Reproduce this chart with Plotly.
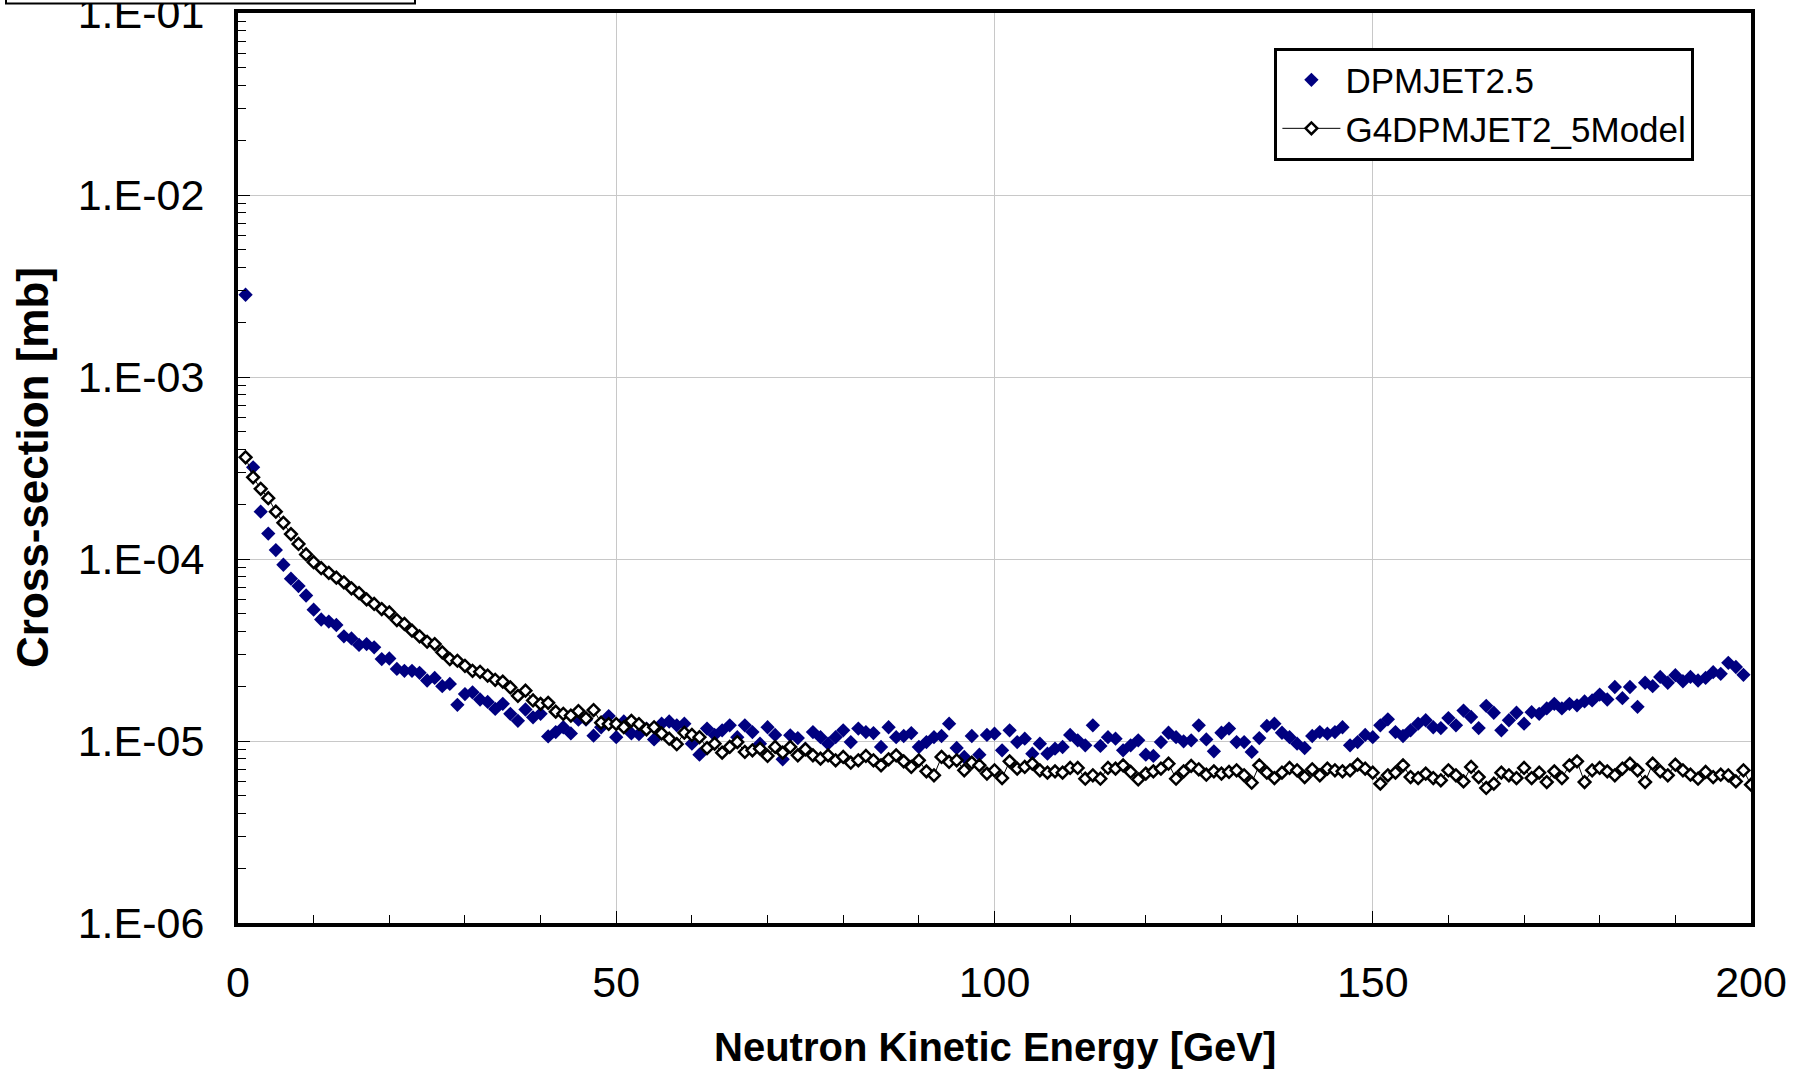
import plotly.graph_objects as go

# ---------------- data ----------------
energy_dpmjet = list(range(1, 200))   # 1..199 GeV
xs_dpmjet = [
    2.83e-3, 3.19e-4, 1.82e-4, 1.38e-4, 1.12e-4, 9.3e-5, 7.8e-5, 7.1e-5, 6.3e-5, 5.27e-5,
    4.65e-5, 4.53e-5, 4.34e-5, 3.76e-5, 3.66e-5, 3.37e-5, 3.41e-5, 3.27e-5, 2.82e-5, 2.84e-5,
    2.49e-5, 2.43e-5, 2.43e-5, 2.37e-5, 2.15e-5, 2.22e-5, 2.0e-5, 2.06e-5, 1.58e-5, 1.81e-5,
    1.85e-5, 1.69e-5, 1.64e-5, 1.50e-5, 1.60e-5, 1.41e-5, 1.29e-5, 1.49e-5, 1.35e-5, 1.41e-5,
    1.06e-5, 1.12e-5, 1.19e-5, 1.10e-5, 1.31e-5, 1.31e-5, 1.07e-5, 1.19e-5, 1.37e-5, 1.05e-5,
    1.28e-5, 1.10e-5, 1.09e-5, 1.17e-5, 1.02e-5, 1.245e-5, 1.28e-5, 1.22e-5, 1.245e-5, 9.67e-6,
    8.41e-6, 1.17e-5, 1.08e-5, 1.145e-5, 1.22e-5, 1.05e-5, 1.22e-5, 1.12e-5, 9.67e-6, 1.19e-5,
    1.08e-5, 7.93e-6, 1.074e-5, 1.038e-5, 9.08e-6, 1.12e-5, 1.05e-5, 9.67e-6, 1.05e-5, 1.145e-5,
    9.87e-6, 1.17e-5, 1.12e-5, 1.106e-5, 9.27e-6, 1.19e-5, 1.05e-5, 1.065e-5, 1.106e-5, 9.27e-6,
    9.87e-6, 1.05e-5, 1.065e-5, 1.245e-5, 9.15e-6, 8.17e-6, 1.065e-5, 8.41e-6, 1.08e-5, 1.097e-5,
    8.89e-6, 1.145e-5, 9.87e-6, 1.03e-5, 8.52e-6, 9.67e-6, 8.52e-6, 9.08e-6, 9.27e-6, 1.08e-5,
    1.008e-5, 9.47e-6, 1.22e-5, 9.39e-6, 1.05e-5, 1.03e-5, 8.89e-6, 9.47e-6, 1.008e-5, 8.41e-6,
    8.28e-6, 9.87e-6, 1.11e-5, 1.05e-5, 9.96e-6, 1.008e-5, 1.22e-5, 1.02e-5, 8.77e-6, 1.11e-5,
    1.17e-5, 9.87e-6, 9.87e-6, 8.71e-6, 1.038e-5, 1.21e-5, 1.245e-5, 1.11e-5, 1.05e-5, 9.67e-6,
    9.15e-6, 1.065e-5, 1.12e-5, 1.097e-5, 1.12e-5, 1.19e-5, 9.47e-6, 9.87e-6, 1.08e-5, 1.05e-5,
    1.22e-5, 1.315e-5, 1.12e-5, 1.065e-5, 1.145e-5, 1.245e-5, 1.30e-5, 1.19e-5, 1.178e-5, 1.337e-5,
    1.22e-5, 1.47e-5, 1.355e-5, 1.178e-5, 1.56e-5, 1.43e-5, 1.145e-5, 1.30e-5, 1.43e-5, 1.245e-5,
    1.44e-5, 1.41e-5, 1.51e-5, 1.60e-5, 1.51e-5, 1.60e-5, 1.57e-5, 1.65e-5, 1.67e-5, 1.80e-5,
    1.69e-5, 1.98e-5, 1.72e-5, 1.98e-5, 1.54e-5, 2.09e-5, 2.0e-5, 2.25e-5, 2.09e-5, 2.30e-5,
    2.13e-5, 2.25e-5, 2.15e-5, 2.22e-5, 2.39e-5, 2.34e-5, 2.69e-5, 2.55e-5, 2.31e-5,
]

energy_g4 = list(range(1, 201))       # 1..200 GeV
xs_g4 = [
    3.62e-4, 2.81e-4, 2.43e-4, 2.16e-4, 1.82e-4, 1.58e-4, 1.37e-4, 1.21e-4, 1.06e-4, 9.6e-5,
    8.9e-5, 8.4e-5, 7.9e-5, 7.45e-5, 6.9e-5, 6.5e-5, 6.0e-5, 5.66e-5, 5.31e-5, 5.09e-5,
    4.62e-5, 4.4e-5, 4.04e-5, 3.76e-5, 3.51e-5, 3.41e-5, 3.07e-5, 2.82e-5, 2.76e-5, 2.59e-5,
    2.43e-5, 2.40e-5, 2.29e-5, 2.17e-5, 2.12e-5, 1.97e-5, 1.77e-5, 1.89e-5, 1.67e-5, 1.60e-5,
    1.62e-5, 1.45e-5, 1.41e-5, 1.38e-5, 1.46e-5, 1.33e-5, 1.48e-5, 1.26e-5, 1.24e-5, 1.24e-5,
    1.19e-5, 1.29e-5, 1.24e-5, 1.16e-5, 1.19e-5, 1.10e-5, 1.03e-5, 9.6e-6, 1.11e-5, 1.08e-5,
    1.05e-5, 9.15e-6, 9.67e-6, 8.63e-6, 9.27e-6, 9.87e-6, 8.71e-6, 8.89e-6, 9.08e-6, 8.28e-6,
    9.27e-6, 8.63e-6, 9.27e-6, 8.34e-6, 9.0e-6, 8.34e-6, 8.0e-6, 8.34e-6, 7.83e-6, 8.17e-6,
    7.6e-6, 7.83e-6, 8.28e-6, 7.83e-6, 7.35e-6, 7.93e-6, 8.34e-6, 7.73e-6, 7.2e-6, 7.83e-6,
    6.81e-6, 6.48e-6, 8.17e-6, 7.67e-6, 7.83e-6, 6.9e-6, 7.6e-6, 7.35e-6, 6.62e-6, 6.9e-6,
    6.26e-6, 7.73e-6, 7.05e-6, 7.2e-6, 7.5e-6, 6.9e-6, 6.7e-6, 6.81e-6, 6.7e-6, 7.11e-6,
    7.11e-6, 6.21e-6, 6.48e-6, 6.21e-6, 7.11e-6, 7.05e-6, 7.35e-6, 6.76e-6, 6.15e-6, 6.62e-6,
    6.81e-6, 7.05e-6, 7.5e-6, 6.21e-6, 6.81e-6, 7.29e-6, 6.99e-6, 6.53e-6, 6.81e-6, 6.62e-6,
    6.76e-6, 6.9e-6, 6.48e-6, 5.9e-6, 7.35e-6, 6.7e-6, 6.26e-6, 6.7e-6, 7.11e-6, 6.9e-6,
    6.34e-6, 6.99e-6, 6.48e-6, 7.05e-6, 6.9e-6, 6.81e-6, 6.9e-6, 7.41e-6, 7.05e-6, 6.7e-6,
    5.83e-6, 6.48e-6, 6.7e-6, 7.35e-6, 6.34e-6, 6.26e-6, 6.62e-6, 6.26e-6, 6.08e-6, 6.9e-6,
    6.48e-6, 6.0e-6, 7.2e-6, 6.34e-6, 5.52e-6, 5.83e-6, 6.7e-6, 6.48e-6, 6.26e-6, 7.11e-6,
    6.26e-6, 6.7e-6, 5.95e-6, 6.81e-6, 6.26e-6, 7.35e-6, 7.73e-6, 5.95e-6, 6.9e-6, 7.11e-6,
    6.81e-6, 6.48e-6, 7.05e-6, 7.5e-6, 6.9e-6, 5.95e-6, 7.5e-6, 6.81e-6, 6.48e-6, 7.41e-6,
    6.9e-6, 6.53e-6, 6.21e-6, 6.76e-6, 6.34e-6, 6.53e-6, 6.48e-6, 6.0e-6, 6.9e-6, 5.75e-6,
]

x_tick_vals = [0, 50, 100, 150, 200]
x_tick_text = ["0", "50", "100", "150", "200"]
y_tick_vals = [1e-6, 1e-5, 1e-4, 1e-3, 1e-2, 1e-1]
y_tick_text = ["1.E-06", "1.E-05", "1.E-04", "1.E-03", "1.E-02", "1.E-01"]

series_names = ["DPMJET2.5", "G4DPMJET2_5Model"]
x_title = "Neutron Kinetic Energy [GeV]"
y_title = "Cross-section [mb]"

# ---------------- figure ----------------
FONT = "Liberation Sans, Arial, sans-serif"
W, H = 1798, 1080
L, R, T, B = 238, 47, 13, 157

fig = go.Figure()
fig.add_trace(go.Scatter(
    x=energy_dpmjet, y=xs_dpmjet, name=series_names[0], mode="markers",
    marker=dict(symbol="diamond", size=11, color="#000080", line=dict(width=0)),
))
fig.add_trace(go.Scatter(
    x=energy_g4, y=xs_g4, name=series_names[1], mode="lines+markers",
    line=dict(color="black", width=1),
    marker=dict(symbol="diamond", size=9, color="white", line=dict(color="black", width=2.5)),
))

fig.update_layout(
    width=W, height=H,
    margin=dict(l=L, r=R, t=T, b=B, autoexpand=False),
    paper_bgcolor="white", plot_bgcolor="white",
    font=dict(family=FONT, color="black", size=43),
    showlegend=True,
    legend=dict(
        x=0.685, y=0.962, xanchor="left", yanchor="top",
        bgcolor="white", bordercolor="black", borderwidth=3,
        font=dict(family=FONT, size=35, color="black"),
        tracegroupgap=0, itemwidth=58,
    ),
)

fig.update_xaxes(
    range=[0, 200], tickmode="array", tickvals=x_tick_vals, ticktext=x_tick_text,
    showgrid=True, gridcolor="#c8c8c8", gridwidth=1, zeroline=False,
    showline=True, linecolor="black", linewidth=4, mirror=True,
    ticks="inside", ticklen=12, tickwidth=1, tickcolor="black",
    ticklabelstandoff=18,
    tickfont=dict(family=FONT, size=43, color="black"),
    minor=dict(ticks="inside", ticklen=8, tickwidth=1, tickcolor="black",
               dtick=10, showgrid=False),
)
fig.update_yaxes(
    type="log", range=[-6, -1], tickmode="array", tickvals=y_tick_vals, ticktext=y_tick_text,
    showgrid=True, gridcolor="#c8c8c8", gridwidth=1, zeroline=False,
    showline=True, linecolor="black", linewidth=4, mirror=True,
    ticks="inside", ticklen=12, tickwidth=1, tickcolor="black",
    ticklabelstandoff=21, ticklabeloverflow="allow",
    tickfont=dict(family=FONT, size=43, color="black"),
    minor=dict(ticks="inside", ticklen=8, tickwidth=1, tickcolor="black",
               dtick="D1", showgrid=False),
)

plot_w = W - L - R
plot_h = H - T - B

# axis titles as annotations for exact placement
fig.add_annotation(
    text=x_title, xref="paper", yref="paper", x=0.5, y=0,
    xanchor="center", yanchor="middle", yshift=-124, showarrow=False,
    font=dict(family=FONT, size=40, color="black", weight="bold"),
)
fig.add_annotation(
    text=y_title, xref="paper", yref="paper", x=0, y=0.5,
    xanchor="center", yanchor="middle", xshift=32 - L, textangle=-90, showarrow=False,
    font=dict(family=FONT, size=44, color="black", weight="bold"),
)

# cut-off title box in the top-left corner
fig.add_shape(
    type="rect", xref="paper", yref="paper",
    x0=(6 - L) / plot_w, x1=(415 - L) / plot_w,
    y0=1 + (T - 3.5) / plot_h, y1=1 + (T + 30) / plot_h,
    line=dict(color="black", width=2), fillcolor="white", layer="above",
)

fig.write_html("out.html")
